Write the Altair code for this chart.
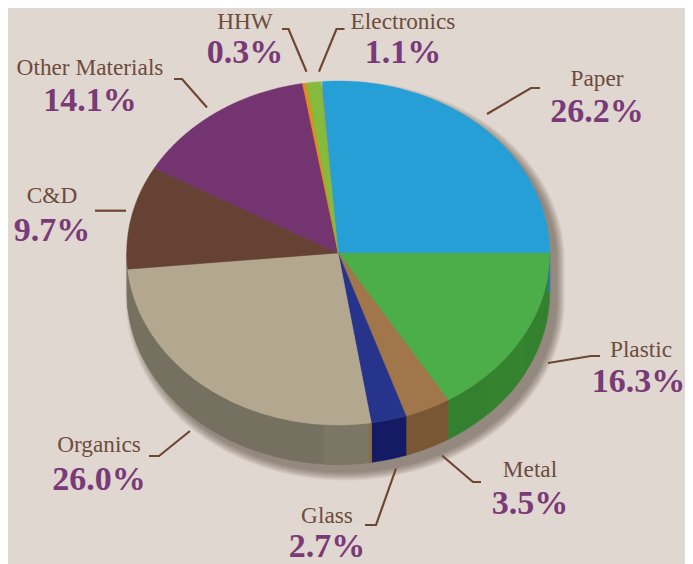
import math
import altair as alt

# ---- values ----
categories = ["Paper", "Plastic", "Metal", "Glass", "Organics", "C&D",
              "Other Materials", "HHW", "Electronics"]
shares = [26.2, 16.3, 3.5, 2.7, 26.0, 9.7, 14.1, 0.3, 1.1]
top_colors = ["#269fd6", "#4cae48", "#a1764a", "#27348b", "#b3a88f",
              "#664234", "#73346f", "#e68a1b", "#84bb3d"]
wall_colors = ["#1f7fb8", "#33802f", "#795735", "#141a63", "#757060",
               "#757060", "#5c2a58", "#b06a10", "#6a9630"]

# ---- layout (page pixels) ----
CX, CY, RX, RY, DEPTH = 338.2, 253.0, 211.5, 172.0, 39.5
START = 90 - 360 * shares[0] / 100
BG, LABEL, PCT, LEADER = "#e0d7d1", "#6e4c3c", "#7a3a78", "#6e4632"

name_pos = [(597, 86), (641, 357), (530, 477), (327, 523),
            (99, 452), (52, 203), (90, 75), (245, 29), (403, 29)]
pct_pos = [(597, 122), (638.5, 392), (530, 514), (327, 556.5),
           (99, 490), (52, 241), (90, 111), (245, 63), (403, 63)]
leader_paths = [
    [(487, 114), (531, 88), (540, 88)],
    [(548, 363), (591, 356), (600, 356)],
    [(442, 455.5), (473, 482), (481, 482)],
    [(396, 468.5), (376, 525), (365, 525)],
    [(190, 431), (159, 456), (149, 456)],
    [(95, 210.7), (126, 210.7)],
    [(174, 79), (182, 79), (207, 107.5)],
    [(282, 29), (288.5, 29), (306.5, 71.7)],
    [(344.5, 29), (336.5, 29), (319, 71.7)],
]


def pt(a, dy=0.0, grow=0.0, dx=0.0):
    r = math.radians(a)
    return [CX + dx + (RX + grow) * math.sin(r), CY + dy - (RY + grow) * math.cos(r)]


def sweep(a0, a1, **kw):
    n = max(2, int(abs(a1 - a0) / 0.5) + 1)
    return [pt(a0 + (a1 - a0) * i / (n - 1), **kw) for i in range(n)]


def feature(coords, color, kind="Polygon"):
    if kind == "Polygon":
        geom = {"type": "Polygon", "coordinates": [coords + [coords[0]]]}
    else:
        geom = {"type": "LineString", "coordinates": coords}
    return {"type": "Feature", "geometry": geom, "properties": {"color": color}}


def wall(a0, a1, color):
    return feature(sweep(a0, a1) + sweep(a1, a0, dy=DEPTH), color)


# slice angle spans from the shares
spans, acc = [], START
for s in shares:
    spans.append((acc, acc + 360 * s / 100))
    acc += 360 * s / 100

tops = [feature([[CX, CY]] + sweep(a0, a1), c) for (a0, a1), c in zip(spans, top_colors)]

walls = []
for (a0, a1), c in zip(spans, wall_colors):
    lo, hi = max(a0, 90), min(a1, 270)
    if hi > lo:
        walls.append(wall(lo, hi, c))
# slightly lighter facets on the wall
walls.append(wall(spans[4][0], 184, "#7b7666"))
walls.append(wall(spans[3][1] - 0.1, spans[3][1] + 0.5, "#8a6a45"))
walls.append(wall(118, 135, "#35832f"))
# the sliver of Paper wall on the far right
walls.append(feature(sweep(90, 95) + [[CX + RX - 1.8, CY + DEPTH - 1], [CX + RX, CY + DEPTH - 1]],
                     wall_colors[0]))

shadows = []
for i in range(10):
    g = 8 - i * 0.9
    outline = sweep(-90, 90, grow=g, dx=7, dy=8) + sweep(90, 270, grow=g, dx=7, dy=8 + DEPTH)
    shadows.append(feature(outline, "#3d2f28"))

leaders = [feature([list(p) for p in path], LEADER, "LineString") for path in leader_paths]

names = [{"x": p[0], "y": p[1], "t": c} for p, c in zip(name_pos, categories)]
pcts = [{"x": p[0], "y": p[1], "t": f"{s:.1f}%"} for p, s in zip(pct_pos, shares)]

FONT = "Liberation Serif"


def shape_layer(feats, **mk):
    return alt.Chart(alt.Data(values=feats)).mark_geoshape(**mk)


shadow_l = shape_layer(shadows, opacity=0.06, strokeWidth=0).encode(
    fill=alt.Fill("properties.color:N", scale=None))
wall_l = shape_layer(walls, strokeWidth=0.4).encode(
    fill=alt.Fill("properties.color:N", scale=None),
    stroke=alt.Stroke("properties.color:N", scale=None))
top_l = shape_layer(tops, strokeWidth=0.4).encode(
    fill=alt.Fill("properties.color:N", scale=None),
    stroke=alt.Stroke("properties.color:N", scale=None))
lead_l = shape_layer(leaders, filled=False, strokeWidth=2.2, fill=None).encode(
    stroke=alt.Stroke("properties.color:N", scale=None))
name_l = alt.Chart(alt.Data(values=names)).mark_text(
    font=FONT, fontSize=23.3, color=LABEL, align="center", baseline="alphabetic"
).encode(longitude="x:Q", latitude="y:Q", text="t:N")
pct_l = alt.Chart(alt.Data(values=pcts)).mark_text(
    font=FONT, fontSize=34, fontWeight="bold", color=PCT, align="center", baseline="alphabetic"
).encode(longitude="x:Q", latitude="y:Q", text="t:N")

chart = alt.layer(shadow_l, wall_l, top_l, lead_l, name_l, pct_l).properties(
    width=677, height=556, padding=0, autosize=alt.AutoSizeParams(type="none"),
    background=BG,
    projection=alt.Projection(type="identity", scale=1, translate=[-8, -8]),
).configure_view(stroke=None)

chart.save("out.html", embed_options={"renderer": "svg", "actions": False})
